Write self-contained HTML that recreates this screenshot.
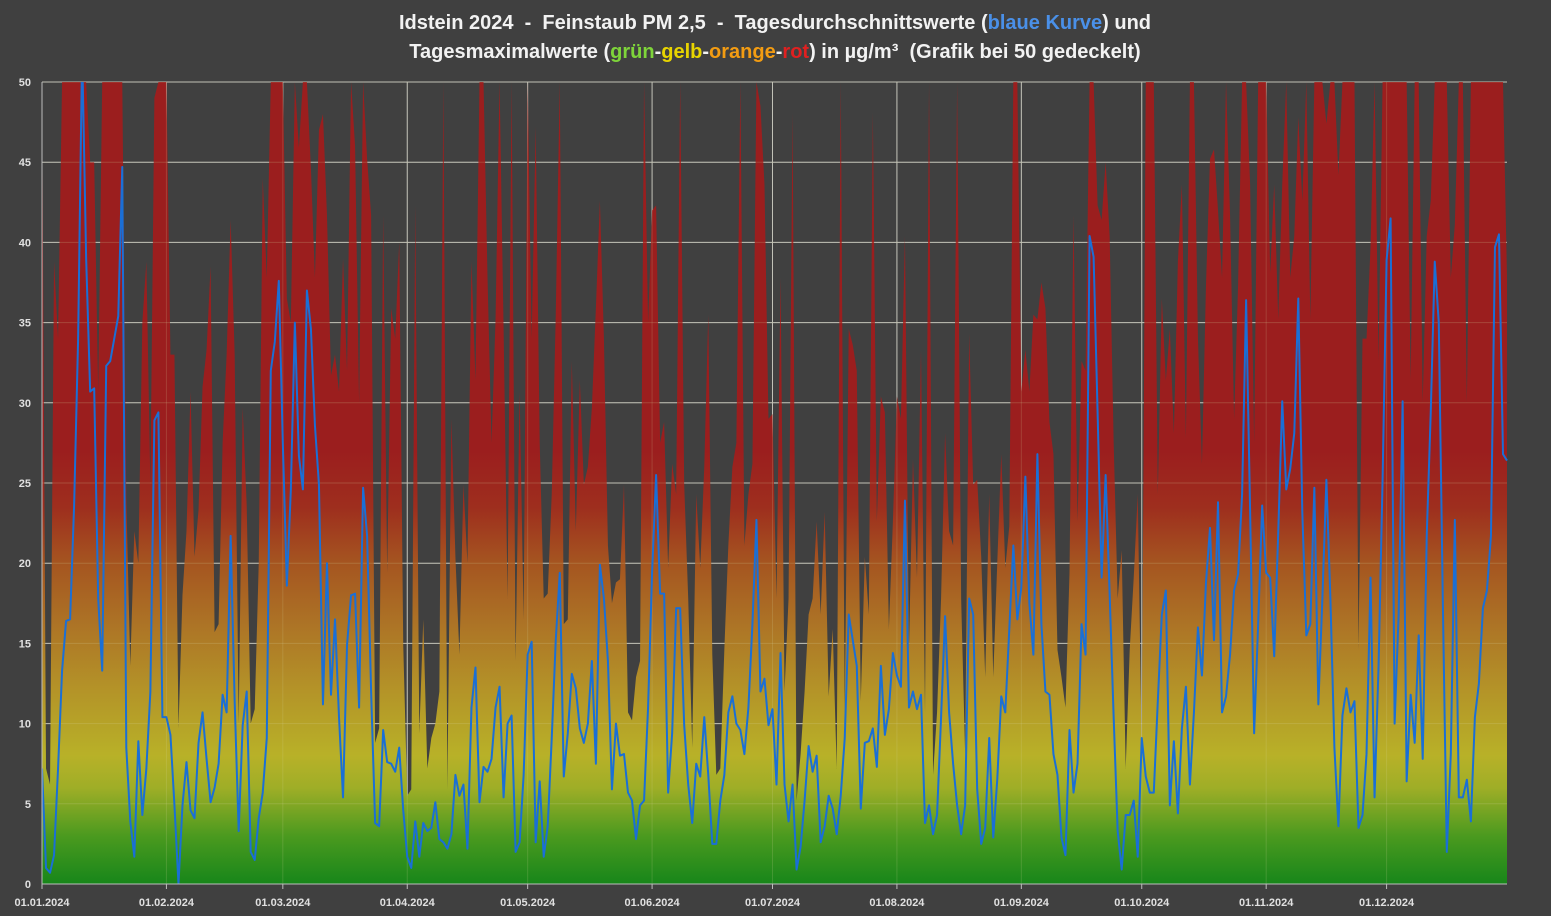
<!DOCTYPE html>
<html><head><meta charset="utf-8"><style>
html,body{margin:0;padding:0;background:#404040;}
svg{display:block;font-family:"Liberation Sans",sans-serif;}
.t{white-space:pre;}
</style></head><body>
<svg id="chart" width="1551" height="916" viewBox="0 0 1551 916">
<defs>
<linearGradient id="grad" gradientUnits="userSpaceOnUse" x1="0" y1="884" x2="0" y2="82">
<stop offset="0" stop-color="#17861a"/>
<stop offset="0.06" stop-color="#4b9a1f"/>
<stop offset="0.12" stop-color="#9fae27"/>
<stop offset="0.16" stop-color="#b8b128"/>
<stop offset="0.24" stop-color="#b49428"/>
<stop offset="0.32" stop-color="#ad7526"/>
<stop offset="0.40" stop-color="#a55520"/>
<stop offset="0.47" stop-color="#9e2e1e"/>
<stop offset="0.54" stop-color="#9b1e1e"/>
<stop offset="1" stop-color="#9b1e1e"/>
</linearGradient>
<clipPath id="plotclip"><rect x="42" y="82" width="1466" height="802"/></clipPath>
</defs>
<rect x="0" y="0" width="1551" height="916" fill="#404040"/>
<text class="t" x="775" y="29" text-anchor="middle" font-size="20" font-weight="bold" fill="#f2f2f2">Idstein 2024  -  Feinstaub PM 2,5  -  Tagesdurchschnittswerte (<tspan fill="#4a90e8">blaue Kurve</tspan>) und</text>
<text class="t" x="775" y="58" text-anchor="middle" font-size="20" font-weight="bold" fill="#f2f2f2">Tagesmaximalwerte (<tspan fill="#7ed43a">grün</tspan>-<tspan fill="#e8d400">gelb</tspan>-<tspan fill="#f39c12">orange</tspan>-<tspan fill="#e02020">rot</tspan>) in µg/m³  (Grafik bei 50 gedeckelt)</text>
<g id="grid"></g>
<g id="area" clip-path="url(#plotclip)"></g>
<g id="gridover"></g>
<g id="line" clip-path="url(#plotclip)"></g>
<g id="axes"></g>
</svg>
<script>
const monthLabels = ["01.01.2024","01.02.2024","01.03.2024","01.04.2024","01.05.2024","01.06.2024","01.07.2024","01.08.2024","01.09.2024","01.10.2024","01.11.2024","01.12.2024"];
const monthStartDays = [0,31,60,91,121,152,182,213,244,274,305,335];
const yTicks = [0,5,10,15,20,25,30,35,40,45,50];
const dailyAvg = [
7.2,1.0,0.7,1.8,7.2,13.3,16.4,16.5,23.6,34,55,39,30.7,30.9,17.8,13.3,32.3,32.6,34,35.4,44.7,8.5,3.9,1.7,8.9,4.3,7.2,12,28.9,29.4,10.4,10.4,9.3,4.9,0,4.9,7.6,4.6,4.1,8.8,10.7,7.8,5.1,6,7.5,11.8,10.7,21.7,11.4,3.3,9.9,12,2,1.5,4.1,5.7,9.1,32,33.8,37.6,27.5,18.6,24.6,35,26.7,24.6,37,34.6,28.6,24.9,11.2,20,11.8,16.5,10.4,5.4,14.9,18,18.1,11,24.7,21.7,12,3.8,3.6,9.6,7.6,7.5,7,8.5,4.6,1.7,
1,3.9,1.7,3.8,3.3,3.5,5.1,2.8,2.6,2.2,3.1,6.8,5.5,6.2,2.2,11,13.5,5.1,7.3,7,7.8,11,12.3,5.4,10,10.5,2,2.6,6.8,14.3,15.1,2.6,6.4,1.7,3.6,9.1,15.2,19.4,6.7,9.4,13.1,12.2,9.7,8.8,10,13.9,7.5,19.9,17.8,13.9,5.9,10,8,8.1,5.7,5.2,2.8,4.9,5.2,11,19.4,25.5,18.1,18.1,5.7,9.4,17.2,17.2,9.9,6.2,3.8,7.5,6.7,10.4,6.8,2.5,2.5,5.2,6.8,10.7,11.7,10,9.6,8.1,11,16.2,22.7,12,12.8,9.9,10.9,6.2,14.4,6.2,3.9,
6.2,0.9,2.3,5.2,8.6,7,8,2.6,3.6,5.5,4.7,3.1,5.5,9.1,16.8,15.2,13.6,4.7,8.8,8.9,9.7,7.3,13.6,9.3,10.9,14.4,13,12.3,23.9,11,12,10.9,11.8,3.8,4.9,3.1,4.3,10.4,16.7,10.7,7.5,4.9,3.1,4.9,17.8,16.8,5.9,2.5,3.5,9.1,2.9,6.5,11.7,10.7,15.9,21.1,16.5,18.5,25.4,17.5,14.3,26.8,16.2,12,11.8,8.1,6.8,2.9,1.8,9.6,5.7,7.5,16.2,14.3,40.4,39.1,29.4,19.1,25.5,18.1,10.4,3.3,0.9,4.3,4.3,5.2,1.7,9.1,6.7,5.7,5.7,11.4,
16.8,18.3,4.9,8.9,4.4,9.7,12.3,6.2,10.7,16,13,18.8,22.2,15.2,23.8,10.7,11.7,14.3,18.3,19.3,24.3,36.4,23.2,9.4,16.2,23.6,19.4,19.1,14.2,21.9,30.1,24.6,25.9,28.1,36.5,23.2,15.5,16.2,24.7,11.2,17.8,25.2,17.8,8.5,3.6,10.5,12.2,10.7,11.4,3.5,4.3,8.1,19.1,5.4,13.6,25.2,38.9,41.5,10,16.8,30.1,6.4,11.8,8.8,15.5,7.8,21.7,29.4,38.8,35,17.8,2,8.1,22.7,5.4,5.4,6.5,3.9,10.4,12.5,17.2,18.3,21.7,39.7,40.5,26.8,26.4
];
const dailyMax = [
50,7.2,6.2,38.8,34,50,50,50,50,50,50,50,45,45,30.7,50,50,50,50,50,50,24,13.6,22,20,35,38.8,24.9,49,50,50,50,33,33,9.7,18,22,30.7,20.4,23.3,31,33.3,38.5,15.7,16.2,27.5,33,41.4,33,10,29.7,23.6,10,10.9,20,44,37.8,50,50,50,50,36.5,35,50,45.9,50,50,44.6,37.8,47,48,41.7,31.7,33,30.7,39,32,50,46,30,50,45.2,41.7,8.8,9.7,41.7,19.4,35.9,34,40,14.9,5.5,
5.9,42.3,9.4,16.5,7.2,9.1,10,12,50,5.9,29,20.4,14.3,24.9,20,38.8,31.4,50,50,37.8,27.5,35.2,50,34.6,17.8,50,13.9,30.7,16.5,50,34,47.2,27.5,17.8,18.1,24.3,35.5,50,16.2,16.5,32.6,22,31.4,24.9,26,29.7,35.9,42.6,34,21.1,17.5,18.8,19,24.9,10.7,10.2,12.9,13.9,50,35,42,42.3,27.5,28.8,19.7,26.2,24.3,50,24.9,17.8,8.5,24.3,19.7,26,35.5,14.3,6.8,7.2,14.6,21.1,26,27.5,50,21.1,24.3,26.2,50,48.5,43.6,29,29.3,17.8,37.8,12,17.8,
48.1,5.2,8.1,12,16.8,17.8,22.6,16.8,23.2,11.7,15.9,7.2,50,10.7,34.6,33.6,32,11.4,20.4,16.8,48.1,22.6,30.4,29.4,15.9,22.6,30.4,29,40.4,14.6,26.5,19.1,33.3,10.7,50,6.8,10.7,17.8,28.1,22,21.1,50,17.8,8.1,34.3,24.9,25.2,20.4,12.9,24.3,12.9,20,26.8,19.7,22.3,50,50,30.7,33.3,30.7,35.5,35.2,37.5,35.9,28.8,26.8,14.6,12.9,11,19.4,41.7,22.6,32.6,32,50,50,42.3,41.4,45,40.4,27.5,17.8,20.8,7.2,14.6,19.1,24.3,8.1,50,50,50,24.3,
36.5,31.4,34.6,28.1,38.8,43.6,27.8,50,50,34,26.2,37.3,45.2,45.8,42,37.8,50,41.7,29,37.3,50,50,43.6,27.5,50,50,50,38.1,43.6,35.2,43.6,50,37.8,40.4,47.8,42.6,50,35.2,50,50,50,47.4,50,50,44.2,50,50,50,50,14.6,34,34,39.7,50,32.6,50,50,50,50,50,50,50,31.4,50,50,30,40.4,42.6,50,50,50,50,37.8,41.1,50,50,30,50,50,50,50,50,50,50,50,50,37.8
];

const NS = "http://www.w3.org/2000/svg";
const X0 = 42, X1 = 1507, Y0 = 884, Y1 = 82, YMAX = 50, NDAYS = 366;
function xScale(d){ return X0 + d * (X1 - X0) / (NDAYS - 1); }
function yScale(v){ return Y0 - Math.min(v, YMAX + 2) * (Y0 - Y1) / YMAX; }
function mk(tag, attrs, parent){ const e = document.createElementNS(NS, tag); for (const k in attrs) e.setAttribute(k, attrs[k]); parent.appendChild(e); return e; }

const grid = document.getElementById('grid');
const gridOver = document.getElementById('gridover');
const axes = document.getElementById('axes');

yTicks.forEach(t => {
  const y = yScale(t);
  const g = mk('line', {x1: X0, x2: X1, y1: y, y2: y, stroke: '#bdbdbd', 'stroke-width': 1}, grid);
  
  
  const go = mk('line', {x1: X0, x2: X1, y1: y, y2: y, stroke: '#d8d8a0', 'stroke-opacity': 0.22, 'stroke-width': 1}, gridOver);
  
  
  const lb = mk('text', {x: 31, y: y + 4, 'text-anchor': 'end', 'font-size': 11, 'font-weight': 'bold', fill: '#e0e0e0'}, axes);
  lb.textContent = t;
  
  
});

monthStartDays.forEach((d, i) => {
  const x = xScale(d);
  const g = mk('line', {x1: x, x2: x, y1: Y1, y2: Y0, stroke: '#bdbdbd', 'stroke-width': 1}, grid);
  
  
  const go = mk('line', {x1: x, x2: x, y1: Y1, y2: Y0, stroke: '#d8d8a0', 'stroke-opacity': 0.18, 'stroke-width': 1}, gridOver);
  
  
  const tk = mk('line', {x1: x, x2: x, y1: Y0, y2: Y0 + 5, stroke: '#bdbdbd', 'stroke-width': 1}, axes);
  
  
  const lb = mk('text', {x: x, y: 906, 'text-anchor': 'middle', 'font-size': 11, 'font-weight': 'bold', fill: '#e0e0e0'}, axes);
  lb.textContent = monthLabels[i];
  
  
});

const ax = mk('line', {x1: X0, x2: X0, y1: Y1, y2: Y0, stroke: '#bdbdbd', 'stroke-width': 1}, axes);


const bx = mk('line', {x1: X0, x2: X1, y1: Y0, y2: Y0, stroke: '#bdbdbd', 'stroke-width': 1}, axes);



let pts = xScale(0) + ',' + Y0;
dailyMax.forEach((v, d) => { pts += ' ' + xScale(d).toFixed(2) + ',' + yScale(v).toFixed(2); });
pts += ' ' + xScale(dailyMax.length - 1) + ',' + Y0;
const area = mk('polygon', {points: pts, fill: 'url(#grad)'}, document.getElementById('area'));



const lp = dailyAvg.map((v, d) => xScale(d).toFixed(2) + ',' + yScale(v).toFixed(2)).join(' ');
const line = mk('polyline', {points: lp, fill: 'none', stroke: '#1a6fd6', 'stroke-width': 2, 'stroke-linejoin': 'round'}, document.getElementById('line'));


</script>
</body></html>
